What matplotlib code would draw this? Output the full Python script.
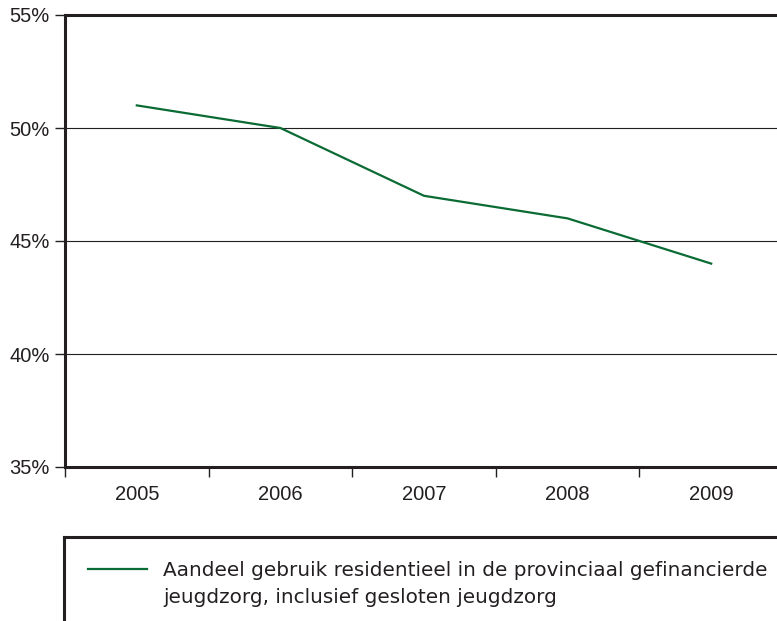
import numpy as np
import matplotlib.pyplot as plt
from matplotlib.lines import Line2D
from matplotlib.ticker import FixedLocator

plt.rcParams['font.family'] = ['Liberation Sans', 'DejaVu Sans']

years = ['2005', '2006', '2007', '2008', '2009']
aandeel = [51, 50, 47, 46, 44]
y_ticks = [35, 40, 45, 50, 55]
y_labels = ['35%', '40%', '45%', '50%', '55%']
legend_lines = ['Aandeel gebruik residentieel in de provinciaal gefinancierde',
                'jeugdzorg, inclusief gesloten jeugdzorg']

green = '#0b6b35'
dark = '#231f20'

fig = plt.figure(figsize=(7.77, 6.21), dpi=100)
ax = fig.add_axes([65/777, (621-467)/621, 718/777, 452/621])

x = np.arange(len(years))
ax.plot(x, aandeel, color=green, lw=1.6)

ax.set_xlim(-0.5, len(years) - 0.5)
ax.set_ylim(35, 55)
ax.set_yticks(y_ticks)
ax.set_yticklabels(y_labels)
ax.set_xticks(x)
ax.set_xticklabels(years)
ax.xaxis.set_minor_locator(FixedLocator(np.arange(-0.5, len(years), 1.0)))

for t in y_ticks[1:-1]:
    ax.axhline(t, color=dark, lw=0.8, zorder=0)

ax.tick_params(axis='x', which='major', length=0, pad=13, labelsize=14.5, colors=dark)
ax.tick_params(axis='x', which='minor', length=7, width=1, color=dark)
ax.tick_params(axis='y', length=7, width=1, color=dark, pad=4, labelsize=14.5, labelcolor=dark)

ax.spines['right'].set_visible(False)
for s in ['top', 'left', 'bottom']:
    ax.spines[s].set_color(dark)
    ax.spines[s].set_linewidth(2.2)

# legend box (open to the right and bottom)
fig.add_artist(Line2D([64/777, 1.0], [(621-537)/621] * 2, color=dark, lw=2.2))
fig.add_artist(Line2D([64/777] * 2, [(621-537)/621, 0.0], color=dark, lw=2.2))
fig.add_artist(Line2D([88/777, 147/777], [(621-569)/621] * 2, color=green, lw=1.6))
for i, line in enumerate(legend_lines):
    fig.text(163/777, (621-576-27*i)/621, line, fontsize=14.4, color=dark,
             family='DejaVu Sans', va='baseline', ha='left')

plt.savefig('out.png', dpi=100)
